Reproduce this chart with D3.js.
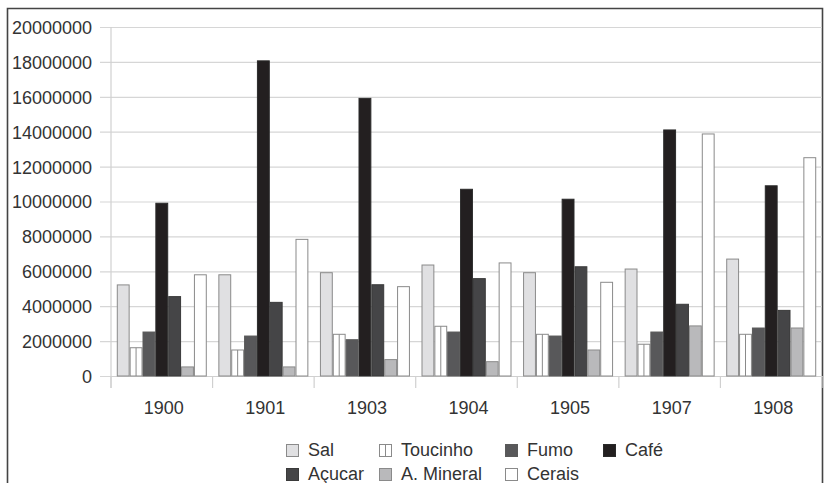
<!DOCTYPE html>
<html>
<head>
<meta charset="utf-8">
<script src="https://cdn.jsdelivr.net/npm/d3@7/dist/d3.min.js"></script>
<style>
  html, body { margin: 0; padding: 0; background: #fff; }
  svg { display: block; }
  text { font-family: "Liberation Sans", Arial, sans-serif; fill: #333; }
</style>
</head>
<body>
<svg id="chart" width="826" height="483"></svg>
<script>
// Years shown on the category axis
const years = ["1900", "1901", "1903", "1904", "1905", "1907", "1908"];

// Products, in bar order within each year
const products = ["Sal", "Toucinho", "Fumo", "Café", "Açucar", "A. Mineral", "Cerais"];

// Values per product, one per year
const sal       = [5220000, 5800000, 5920000, 6360000, 5920000, 6130000, 6700000];
const toucinho  = [1620000, 1490000, 2390000, 2850000, 2390000, 1820000, 2390000];
const fumo      = [2520000, 2290000, 2080000, 2520000, 2290000, 2520000, 2750000];
const cafe      = [9900000, 18060000, 15910000, 10700000, 10130000, 14100000, 10900000];
const acucar    = [4550000, 4220000, 5230000, 5580000, 6260000, 4110000, 3760000];
const aMineral  = [520000, 520000, 940000, 820000, 1490000, 2870000, 2750000];
const cerais    = [5800000, 7830000, 5120000, 6480000, 5370000, 13870000, 12510000];

const seriesValues = [sal, toucinho, fumo, cafe, acucar, aMineral, cerais];

// Y axis tick values
const yTicks = [0, 2000000, 4000000, 6000000, 8000000, 10000000,
                12000000, 14000000, 16000000, 18000000, 20000000];

// Fill per product
const fills = ["#e0e0e2", "#ffffff", "#58585a", "#231f20", "#454547", "#b9b9bb", "#ffffff"];
const strokes = ["#8a8a8a", "#8a8a8a", "#5a5a5a", "#2a2a2a", "#3a3a3a", "#8a8a8a", "#8a8a8a"];

const svg = d3.select("#chart");

// Outer frame
svg.append("path")
  .attr("d", "M7.5,490 V8.5 H822.5 V490")
  .attr("fill", "none")
  .attr("stroke", "#444")
  .attr("stroke-width", 1.6);

const plotLeft = 111, plotRight = 822, plotTop = 27, plotBottom = 376;

const x0 = d3.scaleBand().domain(years).range([plotLeft, plotRight]).padding(0);
const x1 = d3.scaleBand().domain(products).range([0, x0.bandwidth()])
  .paddingInner(0).paddingOuter(0.45);
const y = d3.scaleLinear().domain([0, 20000000]).range([plotBottom, plotTop]);

// Horizontal gridlines with tick labels
const yAxis = d3.axisLeft(y)
  .tickValues(yTicks)
  .tickFormat(d3.format("d"))
  .tickSize(plotRight - 100)
  .tickPadding(8);

const gy = svg.append("g")
  .attr("transform", `translate(${plotRight},0)`)
  .call(yAxis);
gy.select(".domain").remove();
gy.selectAll(".tick line").attr("stroke", "#d6d6d6").attr("stroke-width", 1.2);
gy.selectAll(".tick text")
  .attr("font-size", 18)
  .attr("fill", "#333")
  .attr("x", -(plotRight - 92))
  .attr("dy", "0.36em");

// Vertical axis line
svg.append("line")
  .attr("x1", plotLeft).attr("x2", plotLeft)
  .attr("y1", plotTop).attr("y2", plotBottom + 12)
  .attr("stroke", "#d0d0d0").attr("stroke-width", 1.2);

// Category axis: boundary ticks and centred labels
const xAxis = d3.axisBottom(x0).tickSize(0).tickPadding(0);
const gx = svg.append("g")
  .attr("transform", `translate(0,${plotBottom})`)
  .call(xAxis);
gx.select(".domain").attr("stroke", "#d0d0d0").attr("stroke-width", 1.2);
gx.selectAll(".tick text")
  .attr("font-size", 18)
  .attr("fill", "#333")
  .attr("dx", 2)
  .attr("y", 25);

gx.selectAll(".boundary")
  .data(years.concat(["end"]))
  .join("line")
  .attr("class", "boundary")
  .attr("x1", (d, i) => plotLeft + i * x0.step())
  .attr("x2", (d, i) => plotLeft + i * x0.step())
  .attr("y1", 0).attr("y2", 12)
  .attr("stroke", "#d0d0d0").attr("stroke-width", 1.2);

// Bars
const groups = svg.append("g").selectAll("g")
  .data(years)
  .join("g")
  .attr("transform", d => `translate(${x0(d)},0)`);

groups.each(function (year, yi) {
  const g = d3.select(this);
  products.forEach((p, pi) => {
    const v = seriesValues[pi][yi];
    g.append("rect")
      .attr("x", x1(p) + 0.5)
      .attr("y", y(v))
      .attr("width", x1.bandwidth() - 1)
      .attr("height", y(0) - y(v))
      .attr("fill", fills[pi])
      .attr("stroke", strokes[pi])
      .attr("stroke-width", 1);
    if (p === "Toucinho") {
      const cx = x1(p) + x1.bandwidth() / 2;
      g.append("line")
        .attr("x1", cx).attr("x2", cx)
        .attr("y1", y(v)).attr("y2", y(0))
        .attr("stroke", strokes[pi]).attr("stroke-width", 1);
    }
  });
});

// Legend, two rows
const legendCols = [286, 379, 505, 603];
const legendRows = [444, 468];
const legend = svg.append("g");
products.forEach((p, i) => {
  const row = i < 4 ? 0 : 1;
  const col = i < 4 ? i : i - 4;
  const lx = legendCols[col], ly = legendRows[row];
  legend.append("rect")
    .attr("x", lx + 0.5).attr("y", ly + 0.5)
    .attr("width", 12).attr("height", 12)
    .attr("fill", fills[i])
    .attr("stroke", strokes[i]).attr("stroke-width", 1);
  if (p === "Toucinho") {
    legend.append("line")
      .attr("x1", lx + 6.5).attr("x2", lx + 6.5)
      .attr("y1", ly + 0.5).attr("y2", ly + 12.5)
      .attr("stroke", strokes[i]).attr("stroke-width", 1);
  }
  legend.append("text")
    .attr("x", lx + 22)
    .attr("y", ly + 12)
    .attr("font-size", 18)
    .attr("fill", "#333")
    .text(p);
});
</script>
</body>
</html>
